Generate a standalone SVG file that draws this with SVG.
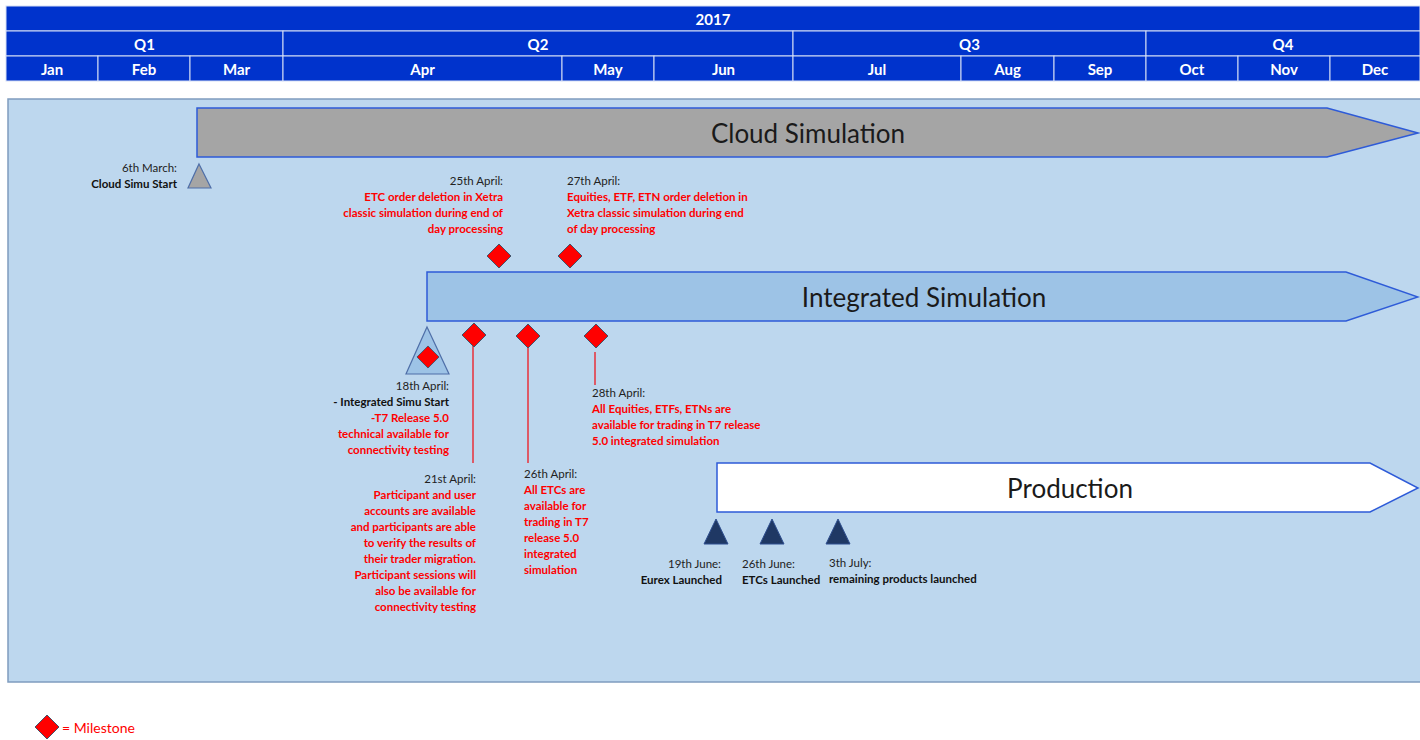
<svg xmlns="http://www.w3.org/2000/svg" width="1420" height="740" viewBox="0 0 1420 740">
  <style>
    .hdr { fill: #0033CC; stroke: #D6E0F5; stroke-width: 1; }
    .htxt { font-family: Lato, "Liberation Sans", sans-serif; font-weight: bold; font-size: 15px; fill: #FFFFFF; text-anchor: middle; }
    .bar { stroke: #2E5BD8; stroke-width: 1.5; }
    .bartxt { font-family: Lato, "Liberation Sans", sans-serif; font-size: 26px; fill: #1A1A1A; text-anchor: middle; dominant-baseline: central; }
    .t { font-family: Lato, "Liberation Sans", sans-serif; font-size: 11.5px; }
    .date { fill: #222222; }
    .dark { fill: #111111; font-weight: bold; }
    .red { fill: #FF0000; font-weight: bold; }
    .r { text-anchor: end; }
    .ms { fill: #FF0000; stroke: #44546A; stroke-width: 1; }
    .lead { stroke: #E8303A; stroke-width: 1.5; fill: none; }
    .launch { fill: #1F3864; stroke: #2F4F8F; stroke-width: 1; }
  </style>
  <defs>
    <polygon id="diamond" points="0,-12 12,0 0,12 -12,0"/>
  </defs>

  <rect width="1420" height="740" fill="#FFFFFF"/>

  <!-- calendar header -->
  <g id="header">
    <rect class="hdr" x="6" y="6" width="1414" height="25"/>
    <rect class="hdr" x="6" y="31" width="277" height="25"/>
    <rect class="hdr" x="283" y="31" width="510" height="25"/>
    <rect class="hdr" x="793" y="31" width="353" height="25"/>
    <rect class="hdr" x="1146" y="31" width="274" height="25"/>
    <rect class="hdr" x="6" y="56" width="92" height="25"/>
    <rect class="hdr" x="98" y="56" width="92" height="25"/>
    <rect class="hdr" x="190" y="56" width="93" height="25"/>
    <rect class="hdr" x="283" y="56" width="279" height="25"/>
    <rect class="hdr" x="562" y="56" width="92" height="25"/>
    <rect class="hdr" x="654" y="56" width="139" height="25"/>
    <rect class="hdr" x="793" y="56" width="168" height="25"/>
    <rect class="hdr" x="961" y="56" width="93" height="25"/>
    <rect class="hdr" x="1054" y="56" width="92" height="25"/>
    <rect class="hdr" x="1146" y="56" width="92" height="25"/>
    <rect class="hdr" x="1238" y="56" width="92" height="25"/>
    <rect class="hdr" x="1330" y="56" width="90" height="25"/>
    <text class="htxt" x="713" y="25">2017</text>
    <text class="htxt" x="144.5" y="50">Q1</text>
    <text class="htxt" x="538" y="50">Q2</text>
    <text class="htxt" x="969.5" y="50">Q3</text>
    <text class="htxt" x="1283" y="50">Q4</text>
    <text class="htxt" x="52" y="75">Jan</text>
    <text class="htxt" x="144" y="75">Feb</text>
    <text class="htxt" x="236.5" y="75">Mar</text>
    <text class="htxt" x="422.5" y="75">Apr</text>
    <text class="htxt" x="608" y="75">May</text>
    <text class="htxt" x="723.5" y="75">Jun</text>
    <text class="htxt" x="877" y="75">Jul</text>
    <text class="htxt" x="1007.5" y="75">Aug</text>
    <text class="htxt" x="1100" y="75">Sep</text>
    <text class="htxt" x="1192" y="75">Oct</text>
    <text class="htxt" x="1284" y="75">Nov</text>
    <text class="htxt" x="1375" y="75">Dec</text>
  </g>

  <!-- timeline panel -->
  <rect id="panel" x="8" y="99" width="1414" height="583" fill="#BDD7EE" stroke="#7F9CBF" stroke-width="1.5"/>

  <!-- phase bars -->
  <g id="cloud-simulation">
    <polygon class="bar" fill="#A5A5A5" points="197,108 1327,108 1418,133 1327,157 197,157"/>
    <text class="bartxt" x="808" y="133">Cloud Simulation</text>
  </g>
  <g id="integrated-simulation">
    <polygon class="bar" fill="#9DC3E6" points="427,272 1346,272 1418,297 1346,321 427,321"/>
    <text class="bartxt" x="924" y="297">Integrated Simulation</text>
  </g>
  <g id="production">
    <polygon class="bar" fill="#FFFFFF" points="717,463 1370,463 1418,488 1370,512 717,512"/>
    <text class="bartxt" x="1070" y="488">Production</text>
  </g>

  <!-- leader lines -->
  <g id="connectors">
    <line class="lead" x1="473" y1="346" x2="473" y2="463"/>
    <line class="lead" x1="528" y1="347" x2="528" y2="463"/>
    <line class="lead" x1="595" y1="352" x2="595" y2="385"/>
  </g>

  <!-- 6th March -->
  <g id="m-cloud-start">
    <polygon points="199,164 211,188 188,188" fill="#A5A5A5" stroke="#4F6FA8" stroke-width="1.2"/>
    <text class="t r date" x="177" y="172">6th March:</text>
    <text class="t r dark" x="177" y="188">Cloud Simu Start</text>
  </g>

  <!-- 25th April -->
  <g id="m-25-april">
    <use href="#diamond" class="ms" x="499" y="256"/>
    <text class="t r date" x="503" y="185">25th April:</text>
    <text class="t r red" x="503" y="201">ETC order deletion in Xetra</text>
    <text class="t r red" x="503" y="217">classic simulation during end of</text>
    <text class="t r red" x="503" y="233">day processing</text>
  </g>

  <!-- 27th April -->
  <g id="m-27-april">
    <use href="#diamond" class="ms" x="570" y="256"/>
    <text class="t date" x="567" y="185">27th April:</text>
    <text class="t red" x="567" y="201">Equities, ETF, ETN order deletion in</text>
    <text class="t red" x="567" y="217">Xetra classic simulation during end</text>
    <text class="t red" x="567" y="233">of day processing</text>
  </g>

  <!-- 18th April -->
  <g id="m-18-april">
    <polygon points="427,327 449,374 406,374" fill="#9DC3E6" stroke="#4F6FA8" stroke-width="1.2"/>
    <use href="#diamond" class="ms" x="428" y="357" transform="translate(428 357) scale(0.92) translate(-428 -357)"/>
    <text class="t r date" x="449" y="390">18th April:</text>
    <text class="t r dark" x="449" y="406">- Integrated Simu Start</text>
    <text class="t r red" x="449" y="422">-T7 Release 5.0</text>
    <text class="t r red" x="449" y="438">technical available for</text>
    <text class="t r red" x="449" y="454">connectivity testing</text>
  </g>

  <!-- 21st April -->
  <g id="m-21-april">
    <use href="#diamond" class="ms" x="474" y="335"/>
    <text class="t r date" x="476" y="483">21st April:</text>
    <text class="t r red" x="476" y="499">Participant and user</text>
    <text class="t r red" x="476" y="515">accounts are available</text>
    <text class="t r red" x="476" y="531">and participants are able</text>
    <text class="t r red" x="476" y="547">to verify the results of</text>
    <text class="t r red" x="476" y="563">their trader migration.</text>
    <text class="t r red" x="476" y="579">Participant sessions will</text>
    <text class="t r red" x="476" y="595">also be available for</text>
    <text class="t r red" x="476" y="611">connectivity testing</text>
  </g>

  <!-- 26th April -->
  <g id="m-26-april">
    <use href="#diamond" class="ms" x="528" y="336"/>
    <text class="t date" x="524" y="478">26th April:</text>
    <text class="t red" x="524" y="494">All ETCs are</text>
    <text class="t red" x="524" y="510">available for</text>
    <text class="t red" x="524" y="526">trading in T7</text>
    <text class="t red" x="524" y="542">release 5.0</text>
    <text class="t red" x="524" y="558">integrated</text>
    <text class="t red" x="524" y="574">simulation</text>
  </g>

  <!-- 28th April -->
  <g id="m-28-april">
    <use href="#diamond" class="ms" x="596" y="336"/>
    <text class="t date" x="592" y="397">28th April:</text>
    <text class="t red" x="592" y="413">All Equities, ETFs, ETNs are</text>
    <text class="t red" x="592" y="429">available for trading in T7 release</text>
    <text class="t red" x="592" y="445">5.0 integrated simulation</text>
  </g>

  <!-- production launches -->
  <g id="l-19-june">
    <polygon class="launch" points="716,519 728,544 704,544"/>
    <text class="t r date" x="721" y="568">19th June:</text>
    <text class="t r dark" x="722" y="584">Eurex Launched</text>
  </g>
  <g id="l-26-june">
    <polygon class="launch" points="772,519 784,544 760,544"/>
    <text class="t date" x="742" y="568">26th June:</text>
    <text class="t dark" x="742" y="584">ETCs Launched</text>
  </g>
  <g id="l-3-july">
    <polygon class="launch" points="838,519 850,544 826,544"/>
    <text class="t date" x="829" y="567">3th July:</text>
    <text class="t dark" x="829" y="583">remaining products launched</text>
  </g>

  <!-- legend -->
  <g id="legend">
    <use href="#diamond" class="ms" x="47" y="727"/>
    <text x="62" y="733" font-family="Lato, 'Liberation Sans', sans-serif" font-size="14" fill="#FF0000">= Milestone</text>
  </g>
</svg>
